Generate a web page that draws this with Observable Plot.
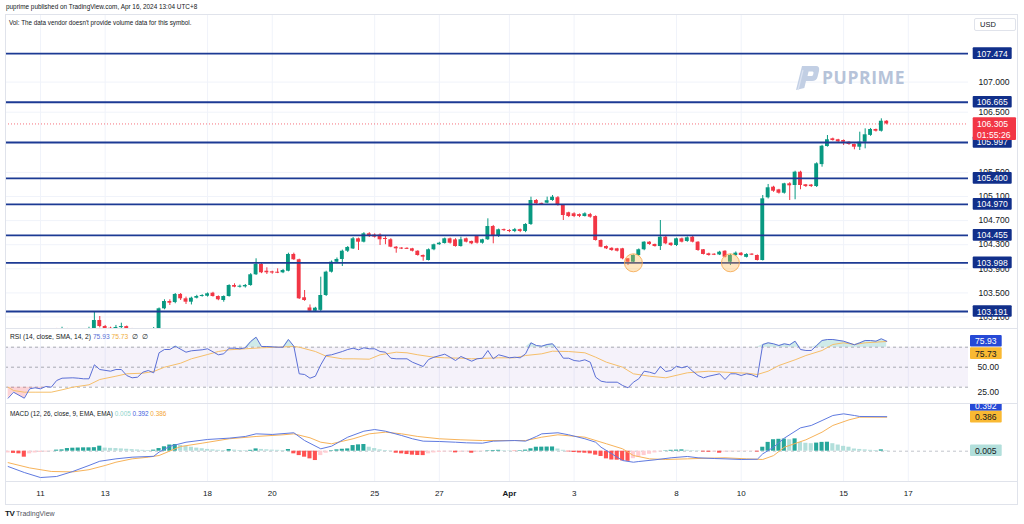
<!DOCTYPE html>
<html><head><meta charset="utf-8">
<script src="https://cdn.jsdelivr.net/npm/d3@7"></script>
<script src="https://cdn.jsdelivr.net/npm/@observablehq/plot@0.6"></script>
<style>
html,body{margin:0;padding:0;background:#fff;}
#chart{position:relative;width:1024px;height:524px;overflow:hidden;font-family:"Liberation Sans",Arial,sans-serif;color:#131722;}
#chart svg.pane{position:absolute;left:0;background:transparent;overflow:hidden;}
.txt{position:absolute;white-space:nowrap;line-height:1;}
.hline{position:absolute;left:5px;width:1013px;height:1px;background:#e0e3eb;}
</style></head><body>
<div id="chart"></div>
<script>
// ---------- DATA ----------
// 4-hour bars of the US Dollar Index; bar 0 = first bar of Mar 11
const firstBar = -7;
const open = [
102.900,102.860,102.800,102.820,102.760,102.800,102.840,102.830,102.860,102.850,
102.880,102.870,102.890,102.870,102.860,102.880,102.870,102.900,103.042,102.942,
102.909,102.900,102.925,102.940,102.890,102.860,102.840,102.870,102.860,102.880,
103.236,103.357,103.340,103.474,103.402,103.346,103.412,103.440,103.445,103.495,
103.440,103.374,103.440,103.623,103.595,103.600,103.623,103.801,103.972,103.860,
103.850,103.840,103.834,103.860,104.138,104.050,103.419,103.250,103.196,103.210,
103.457,103.844,104.010,104.055,104.192,104.230,104.398,104.342,104.481,104.460,
104.460,104.400,104.382,104.259,104.240,104.235,104.232,104.192,104.121,104.038,
104.216,104.299,104.320,104.398,104.380,104.270,104.398,104.354,104.436,104.325,
104.382,104.602,104.436,104.550,104.535,104.520,104.550,104.520,104.636,105.034,
104.985,104.990,105.034,105.080,104.951,104.830,104.813,104.800,104.768,104.800,
104.768,104.370,104.270,104.240,104.232,104.232,104.066,104.010,104.121,104.216,
104.342,104.304,104.270,104.425,104.325,104.287,104.398,104.354,104.425,104.342,
104.216,104.149,104.138,104.130,104.192,104.010,104.120,104.159,104.090,104.140,
104.121,104.038,105.079,105.255,105.210,105.155,105.311,105.283,105.504,105.295,
105.290,105.266,105.630,105.930,106.058,106.042,106.030,106.002,105.964,105.919,
106.002,106.115,106.213,106.184,106.350];
const high = [
102.920,102.880,102.840,102.830,102.820,102.860,102.870,102.880,102.890,102.900,
102.910,102.930,102.910,102.890,102.900,102.900,102.930,103.180,103.108,102.960,
102.930,102.960,102.997,102.950,102.910,102.880,102.890,102.900,102.926,103.250,
103.386,103.386,103.490,103.490,103.430,103.429,103.460,103.470,103.500,103.510,
103.450,103.450,103.635,103.651,103.630,103.640,103.820,104.066,103.990,103.917,
103.860,103.900,103.890,104.159,104.160,104.060,103.540,103.300,103.260,103.761,
103.860,104.030,104.080,104.210,104.270,104.420,104.410,104.500,104.500,104.480,
104.480,104.450,104.400,104.270,104.250,104.250,104.240,104.200,104.130,104.230,
104.310,104.340,104.410,104.410,104.400,104.425,104.410,104.360,104.450,104.390,
104.730,104.620,104.560,104.560,104.550,104.570,104.560,104.650,105.089,105.050,
104.990,105.090,105.117,105.100,104.960,104.840,104.830,104.810,104.830,104.820,
104.780,104.380,104.280,104.250,104.240,104.240,104.070,104.130,104.230,104.350,
104.350,104.310,104.702,104.440,104.330,104.410,104.410,104.430,104.440,104.350,
104.220,104.160,104.150,104.190,104.200,104.140,104.180,104.170,104.150,104.150,
104.130,105.117,105.300,105.270,105.220,105.320,105.330,105.520,105.520,105.300,
105.300,105.660,105.950,106.113,106.070,106.050,106.040,106.010,105.970,106.168,
106.224,106.230,106.220,106.390,106.360];
const low = [
102.840,102.780,102.760,102.720,102.740,102.780,102.800,102.810,102.830,102.830,
102.850,102.850,102.840,102.830,102.840,102.850,102.850,102.880,102.920,102.890,
102.880,102.880,102.900,102.870,102.830,102.800,102.820,102.840,102.840,102.860,
103.220,103.291,103.320,103.374,103.308,103.300,103.400,103.430,103.430,103.430,
103.370,103.346,103.430,103.585,103.580,103.580,103.610,103.790,103.820,103.806,
103.810,103.820,103.820,103.850,104.040,103.390,103.360,103.180,103.180,103.180,
103.440,103.830,103.990,103.938,104.170,104.220,104.204,104.330,104.420,104.410,
104.287,104.300,104.250,104.159,104.220,104.220,104.180,104.110,104.026,104.030,
104.200,104.290,104.310,104.310,104.260,104.260,104.330,104.300,104.310,104.310,
104.370,104.315,104.420,104.520,104.500,104.500,104.500,104.500,104.620,104.970,
104.960,104.980,105.020,104.940,104.702,104.750,104.750,104.750,104.760,104.740,
104.360,104.250,104.220,104.190,104.180,104.050,103.955,104.000,104.110,104.200,
104.290,104.260,104.204,104.300,104.270,104.270,104.330,104.340,104.330,104.190,
104.130,104.110,104.120,104.120,104.080,103.955,104.110,104.110,104.080,104.120,
104.030,104.030,105.060,105.170,105.140,105.140,105.034,105.046,105.212,105.250,
105.250,105.250,105.587,105.920,106.020,106.000,105.947,105.950,105.876,105.864,
105.892,106.100,106.170,106.170,106.290];
const close = [
102.860,102.800,102.820,102.760,102.800,102.840,102.830,102.860,102.850,102.880,
102.870,102.890,102.870,102.860,102.880,102.870,102.900,103.042,102.942,102.909,
102.900,102.925,102.940,102.890,102.860,102.840,102.870,102.860,102.880,103.236,
103.357,103.329,103.474,103.402,103.346,103.412,103.440,103.457,103.485,103.440,
103.386,103.440,103.623,103.595,103.610,103.623,103.801,103.972,103.834,103.834,
103.830,103.830,103.872,104.138,104.050,103.402,103.374,103.196,103.246,103.457,
103.844,104.010,104.055,104.192,104.254,104.398,104.342,104.481,104.436,104.425,
104.382,104.390,104.259,104.232,104.232,104.228,104.192,104.121,104.093,104.216,
104.299,104.325,104.398,104.325,104.270,104.382,104.342,104.315,104.325,104.382,
104.602,104.436,104.548,104.535,104.520,104.550,104.520,104.636,105.034,104.979,
104.970,105.030,105.089,104.951,104.785,104.768,104.768,104.770,104.813,104.757,
104.370,104.259,104.232,104.204,104.192,104.066,104.010,104.121,104.216,104.342,
104.304,104.270,104.425,104.315,104.287,104.398,104.342,104.415,104.342,104.204,
104.138,104.121,104.130,104.176,104.093,104.121,104.160,104.121,104.138,104.130,
104.038,105.062,105.245,105.188,105.155,105.311,105.278,105.504,105.283,105.266,
105.266,105.643,105.935,106.042,106.030,106.008,106.002,105.964,105.919,106.002,
106.125,106.213,106.184,106.350,106.305];

const levels = [107.474, 106.665, 105.997, 105.400, 104.970, 104.455, 103.998, 103.191];
const lastPrice = 106.305;
const countdown = "01:55:26";
const priceTicks = [107.0, 106.5, 105.5, 105.1, 104.7, 104.3, 103.9, 103.5, 103.1];
const dayTickBars = [0, 12, 31, 43, 62, 74, 87, 99, 118, 130, 149, 161];
const dayTickLabels = ["11", "13", "18", "20", "25", "27", "Apr", "3", "8", "10", "15", "17"];
const touchBars = [110, 128];
const touchPrice = 104.0;

// RSI (14) and its SMA (14): [bar, value]
const rsiLevels = [70, 50, 30];
const rsiTicks = [50, 25];
const rsiLine = [[-6,19.0],[-5,25.0],[-3,19.0],[-2,28.4],[-1,29.4],[0,28.4],[1,30.7],[2,30.0],[3,36.7],[4,39.0],[6,39.4],[7,39.0],[8,38.4],[9,38.4],[10,52.4],[11,47.7],[13,46.0],[14,47.7],[15,47.7],[16,41.7],[17,39.4],[18,40.0],[19,45.0],[20,46.7],[21,44.4],[22,64.4],[23,67.7],[24,67.7],[25,71.0],[27,65.0],[28,66.4],[30,67.4],[31,68.4],[33,62.4],[34,63.4],[35,69.0],[36,69.0],[37,68.4],[38,69.4],[39,75.7],[40,80.0],[41,70.7],[42,70.7],[44,70.0],[45,70.0],[46,77.7],[47,71.0],[48,43.4],[49,42.7],[50,39.0],[51,41.0],[52,52.4],[53,61.7],[54,62.4],[56,65.7],[57,67.7],[58,69.0],[59,67.4],[60,69.4],[61,68.4],[62,68.4],[63,65.7],[64,65.0],[65,59.0],[66,58.4],[68,58.4],[69,55.0],[71,50.7],[72,57.7],[73,60.0],[75,63.0],[76,60.0],[77,56.7],[78,60.7],[79,58.4],[80,56.0],[81,58.4],[82,59.0],[83,66.7],[84,58.4],[85,62.4],[86,61.0],[87,59.4],[88,60.0],[89,59.4],[90,63.4],[91,74.4],[92,71.7],[93,71.0],[94,72.7],[95,73.4],[96,66.7],[97,59.0],[98,59.0],[99,56.7],[100,56.0],[101,57.4],[102,55.0],[103,40.0],[104,36.0],[105,35.0],[107,35.0],[108,31.7],[109,29.4],[110,35.0],[111,38.4],[112,46.0],[113,45.0],[114,43.4],[115,50.7],[116,45.7],[117,46.7],[118,51.0],[119,49.4],[120,51.0],[121,46.0],[122,41.7],[123,39.4],[124,41.0],[126,43.4],[127,37.7],[128,43.4],[129,43.4],[130,41.7],[131,43.4],[132,42.4],[133,40.0],[134,72.7],[135,74.4],[136,73.4],[137,71.7],[138,73.4],[139,72.4],[140,76.0],[141,67.7],[142,66.7],[143,66.7],[144,71.7],[145,76.7],[146,77.7],[147,77.7],[149,76.0],[151,72.4],[152,74.4],[153,76.7],[154,76.7],[155,76.0],[156,78.4],[157,75.93]];
const rsiMa = [[-6,30.0],[-5,26.7],[-3,25.0],[-1,25.0],[2,25.0],[4,27.4],[6,30.0],[9,32.4],[11,37.7],[14,41.0],[16,43.4],[19,44.0],[21,45.7],[23,50.0],[26,54.0],[28,58.4],[31,62.7],[33,65.7],[35,67.4],[38,68.4],[41,69.4],[44,70.0],[47,70.7],[48,70.0],[51,65.7],[53,61.0],[56,58.4],[58,58.4],[61,58.0],[63,62.4],[66,65.0],[68,64.4],[70,62.4],[73,60.0],[75,59.4],[78,59.0],[80,58.4],[83,59.0],[85,59.4],[88,59.4],[90,61.7],[93,63.4],[95,66.0],[98,65.7],[101,64.4],[103,60.0],[105,55.0],[108,50.0],[110,43.4],[113,41.0],[116,39.4],[120,44.4],[124,46.0],[127,45.0],[131,44.0],[133,42.7],[135,46.0],[137,51.7],[140,57.4],[142,61.7],[145,66.7],[147,72.7],[149,74.4],[151,72.7],[153,74.4],[157,75.73]];
const rsiLast = 75.93, rsiMaLast = 75.73;

// MACD (12, 26, 9): [bar, value]
const macdLine = [[-6,-0.174],[-3,-0.242],[0,-0.299],[3,-0.287],[6,-0.230],[9,-0.162],[11,-0.114],[14,-0.087],[17,-0.068],[21,-0.058],[22,-0.010],[24,0.055],[27,0.102],[31,0.133],[35,0.148],[38,0.167],[40,0.197],[43,0.190],[47,0.209],[49,0.121],[52,0.027],[54,0.057],[57,0.159],[60,0.227],[62,0.246],[64,0.227],[67,0.178],[69,0.141],[71,0.114],[74,0.110],[77,0.102],[79,0.095],[82,0.091],[84,0.114],[88,0.121],[90,0.114],[92,0.167],[93,0.197],[96,0.209],[98,0.186],[101,0.141],[103,0.102],[104,0.045],[106,-0.030],[108,-0.106],[110,-0.125],[111,-0.117],[114,-0.098],[117,-0.075],[120,-0.060],[122,-0.075],[125,-0.083],[127,-0.087],[130,-0.094],[133,-0.091],[134,-0.030],[136,0.045],[138,0.148],[141,0.265],[143,0.292],[145,0.348],[147,0.405],[149,0.424],[151,0.405],[152,0.394],[157,0.392]];
const signalLine = [[-6,-0.130],[-2,-0.190],[2,-0.230],[6,-0.235],[9,-0.210],[12,-0.162],[14,-0.125],[17,-0.087],[20,-0.068],[22,-0.049],[26,0.053],[30,0.091],[35,0.141],[40,0.167],[45,0.186],[47,0.197],[50,0.152],[52,0.102],[54,0.084],[58,0.141],[61,0.197],[64,0.216],[67,0.197],[70,0.167],[74,0.141],[78,0.129],[82,0.121],[88,0.121],[90,0.121],[93,0.159],[96,0.186],[101,0.159],[105,0.084],[108,0.027],[110,-0.049],[113,-0.087],[116,-0.094],[120,-0.087],[124,-0.079],[127,-0.075],[131,-0.087],[134,-0.094],[136,-0.050],[138,0.045],[142,0.129],[145,0.216],[147,0.292],[150,0.356],[152,0.386],[157,0.386]];
const histFirstBar = -6;
const histValues = [
-0.020,-0.025,-0.030,-0.068,-0.030,-0.020,-0.015,-0.010,-0.005,0.012,
0.015,0.030,0.034,0.036,0.038,0.038,0.040,0.057,0.035,0.032,
0.030,0.026,0.022,0.018,0.014,0.010,0.008,0.012,0.030,0.050,
0.070,0.076,0.065,0.055,0.045,0.035,0.028,0.020,0.015,0.010,
0.008,0.019,0.012,0.008,0.006,0.010,0.026,0.020,0.016,0.012,
0.010,0.008,0.019,-0.030,-0.050,-0.068,-0.087,-0.106,-0.050,-0.023,
0.006,0.015,0.022,0.026,0.064,0.072,0.076,0.045,0.030,0.015,
0.008,0.004,-0.023,-0.030,-0.038,-0.045,-0.049,-0.050,-0.030,-0.020,
-0.015,-0.010,-0.008,-0.019,-0.012,-0.008,-0.023,-0.010,-0.005,0.005,
0.008,0.010,0.006,0.004,-0.004,0.006,0.012,0.027,0.045,0.046,
0.047,0.048,0.025,0.010,-0.008,-0.015,-0.020,-0.023,-0.030,-0.045,
-0.060,-0.087,-0.100,-0.102,-0.110,-0.115,-0.085,-0.070,-0.050,-0.035,
-0.020,-0.008,0.004,0.010,0.012,0.015,0.010,0.006,0.004,-0.010,
-0.012,-0.010,-0.023,-0.010,-0.008,-0.006,-0.005,-0.004,-0.003,-0.010,
0.045,0.100,0.130,0.135,0.138,0.130,0.140,0.100,0.090,0.085,
0.092,0.100,0.102,0.085,0.070,0.055,0.045,0.025,0.020,0.015,
0.010,0.008,0.015,0.005];
const macdLast = 0.392, signalLast = 0.386, histLast = 0.005;

// ---------- DRAWING ----------
const FONT = '"Liberation Sans", Arial, sans-serif';
const UP = "#089981", DOWN = "#f23645";
const LEVEL = "#1c3a94", LEVEL_TAG = "#112f8a";
const xDomain = [-6.49, 172.17];
const root = document.getElementById("chart");

const candles = open.map((o, i) => ({bar: i + firstBar, o, h: high[i], l: low[i], c: close[i]}));
const minBody = 0.017;
const bodyLo = d => { const lo = Math.min(d.o, d.c), hi = Math.max(d.o, d.c); return hi - lo < minBody ? (lo + hi) / 2 - minBody / 2 : lo; };
const bodyHi = d => { const lo = Math.min(d.o, d.c), hi = Math.max(d.o, d.c); return hi - lo < minBody ? (lo + hi) / 2 + minBody / 2 : hi; };
const candleColor = d => d.c >= d.o ? UP : DOWN;

function place(svg, top) {
  svg.classList.add("pane");
  svg.style.top = top + "px";
  svg.style.maxWidth = "none";
  svg.style.overflow = "hidden";
  root.appendChild(svg);
  return svg;
}
function tag(svg, y, text, fill, color, opts = {}) {
  const x = opts.x ?? 972.7, w = opts.w ?? 39, h = opts.h ?? 11.7, fs = opts.fs ?? 8.6;
  const g = d3.select(svg).append("g");
  g.append("rect").attr("x", x).attr("y", y - h / 2).attr("width", w).attr("height", h).attr("fill", fill).attr("rx", 1);
  g.append("text").attr("x", x + w / 2).attr("y", y + 0.5).attr("text-anchor", "middle").attr("dominant-baseline", "central")
    .attr("fill", color).attr("font-size", fs).attr("font-family", FONT).text(text);
  return g;
}

// main price pane (y 14 .. 328)
const main = Plot.plot({
  width: 1024, height: 314, marginTop: 0, marginBottom: 0, marginLeft: 5, marginRight: 56,
  style: {fontFamily: FONT, fontSize: "8.6px", color: "#131722", background: "transparent"},
  x: {domain: xDomain, axis: null},
  y: {domain: [102.909, 108.122], axis: "right", ticks: priceTicks, tickFormat: d3.format(".3f"), tickSize: 0, tickPadding: 10, label: null},
  marks: [
    Plot.ruleX(dayTickBars, {stroke: "#f0f3fa"}),
    Plot.ruleY(priceTicks, {stroke: "#f0f3fa"}),
    Plot.ruleY([lastPrice], {stroke: DOWN, strokeWidth: 1, strokeDasharray: "1,2", strokeOpacity: 0.7}),
    Plot.ruleX(candles, {x: "bar", y1: "l", y2: "h", stroke: candleColor, strokeWidth: 1, clip: true}),
    Plot.rect(candles, {x1: d => d.bar - 0.36, x2: d => d.bar + 0.36, y1: bodyLo, y2: bodyHi, fill: candleColor, clip: true}),
    Plot.ruleY(levels, {stroke: LEVEL, strokeWidth: 1.8}),
    Plot.dot(touchBars, {x: d => d, y: () => touchPrice, r: 9, fill: "#ffb74d", fillOpacity: 0.35, stroke: "#f5a54a", strokeOpacity: 0.8, strokeWidth: 1})
  ]
});
place(main, 14);
const ys = main.scale("y");
levels.forEach(v => tag(main, ys.apply(v), v.toFixed(3), LEVEL_TAG, "#ffffff"));
{
  const y = ys.apply(lastPrice);
  const g = d3.select(main).append("g").attr("text-anchor", "start");
  g.append("rect").attr("x", 972.7).attr("y", y - 6.1).attr("width", 43.3).attr("height", 22.7).attr("fill", DOWN).attr("rx", 1);
  g.append("text").attr("x", 977).attr("y", y + 0.5).attr("text-anchor", "start").attr("dominant-baseline", "central").attr("fill", "#fff").attr("font-size", 8.6).attr("font-family", FONT).text(lastPrice.toFixed(3));
  g.append("text").attr("x", 977).attr("y", y + 11.3).attr("text-anchor", "start").attr("dominant-baseline", "central").attr("fill", "#fff").attr("font-size", 8.6).attr("font-family", FONT).text(countdown);
}

// RSI pane (y 329 .. 403)
const rsi = Plot.plot({
  width: 1024, height: 74, marginTop: 0, marginBottom: 0, marginLeft: 5, marginRight: 56,
  style: {fontFamily: FONT, fontSize: "8.6px", color: "#131722", background: "transparent"},
  x: {domain: xDomain, axis: null},
  y: {domain: [13.7, 87.7], axis: "right", ticks: rsiTicks, tickFormat: d3.format(".2f"), tickSize: 0, tickPadding: 9, label: null},
  marks: [
    Plot.ruleX(dayTickBars, {stroke: "#f0f3fa"}),
    Plot.rect([0], {x1: xDomain[0], x2: xDomain[1], y1: rsiLevels[2], y2: rsiLevels[0], fill: "#7e57c2", fillOpacity: 0.08}),
    Plot.ruleY(rsiLevels, {stroke: "#9598a1", strokeDasharray: "3,3", strokeOpacity: 0.8}),
    Plot.areaY(rsiLine, {x: d => d[0], y1: rsiLevels[0], y2: d => Math.max(rsiLevels[0], d[1]), fill: "#26a69a", fillOpacity: 0.22, clip: true}),
    Plot.areaY(rsiLine, {x: d => d[0], y1: rsiLevels[2], y2: d => Math.min(rsiLevels[2], d[1]), fill: "#f23645", fillOpacity: 0.22, clip: true}),
    Plot.line(rsiMa, {x: d => d[0], y: d => d[1], stroke: "#f5bf6a", strokeWidth: 1, clip: true}),
    Plot.line(rsiLine, {x: d => d[0], y: d => d[1], stroke: "#5b6fd6", strokeWidth: 1, clip: true})
  ]
});
place(rsi, 329);
const rs = rsi.scale("y");
tag(rsi, rs.apply(rsiLast), rsiLast.toFixed(2), "#2649d6", "#ffffff", {x: 970, w: 31.7});
tag(rsi, rs.apply(rsiMaLast) + 12.2, rsiMaLast.toFixed(2), "#f9b933", "#131722", {x: 970, w: 31.7});

// MACD pane (y 404 .. 481) + time axis
const hist = histValues.map((v, i) => ({bar: i + histFirstBar, v, prev: i ? histValues[i - 1] : v}));
const histColor = d => d.v >= 0 ? (d.v >= d.prev ? "#26a69a" : "#b2dfdb") : (d.v < d.prev ? "#ff5252" : "#ffcdd2");
const macd = Plot.plot({
  width: 1024, height: 101, marginTop: 0, marginBottom: 24, marginLeft: 5, marginRight: 56,
  style: {fontFamily: FONT, fontSize: "8px", color: "#131722", background: "transparent"},
  x: {domain: xDomain, axis: "bottom", ticks: dayTickBars, tickFormat: d => dayTickLabels[dayTickBars.indexOf(d)], tickSize: 0, tickPadding: 9, label: null},
  y: {domain: [-0.344, 0.530], axis: null},
  marks: [
    Plot.ruleX(dayTickBars, {stroke: "#f0f3fa"}),
    Plot.ruleY([0], {stroke: "#b2b5be", strokeDasharray: "3,3", strokeOpacity: 0.8}),
    Plot.rect(hist, {x1: d => d.bar - 0.38, x2: d => d.bar + 0.38, y1: 0, y2: "v", fill: histColor, clip: true}),
    Plot.line(signalLine, {x: d => d[0], y: d => d[1], stroke: "#f7b35a", strokeWidth: 1, clip: true}),
    Plot.line(macdLine, {x: d => d[0], y: d => d[1], stroke: "#5f7ae0", strokeWidth: 1, clip: true})
  ]
});
place(macd, 404);
d3.select(macd).selectAll("text").filter(function () { return this.textContent === "Apr"; }).attr("font-weight", "bold");
const ms = macd.scale("y");
tag(macd, ms.apply(signalLast) - 11.7, macdLast.toFixed(3), "#2649d6", "#ffffff", {x: 970, w: 31.7});
tag(macd, ms.apply(signalLast), signalLast.toFixed(3), "#f9b933", "#131722", {x: 970, w: 31.7});
tag(macd, ms.apply(histLast), histLast.toFixed(3), "#b2dfdb", "#131722", {x: 970, w: 31.7});

// ---------- TEXT / FRAME OVERLAYS ----------
function addText(html, left, top, size, color, extra = "") {
  const d = document.createElement("div");
  d.className = "txt";
  d.style.cssText += `left:${left}px;top:${top}px;font-size:${size}px;color:${color};${extra}`;
  d.innerHTML = html;
  root.appendChild(d);
  return d;
}
addText("puprime published on TradingView.com, Apr 16, 2024 13:04 UTC+8", 6, 4, 6.4, "#131722");
addText("Vol: The data vendor doesn't provide volume data for this symbol.", 9, 20, 6.3, "#131722");
addText(`RSI (14, close, SMA, 14, 2) <span style="color:#5b6fd6">${rsiLast.toFixed(2)}</span> <span style="color:#f0ad3c">${rsiMaLast.toFixed(2)}</span> <span style="color:#131722">&nbsp;∅&nbsp;&nbsp;∅</span>`, 10, 334.3, 6.7, "#131722");
addText(`MACD (12, 26, close, 9, EMA, EMA) <span style="color:#8fd3cb">${histLast.toFixed(3)}</span> <span style="color:#3f63de">${macdLast.toFixed(3)}</span> <span style="color:#f3a533">${signalLast.toFixed(3)}</span>`, 10, 410.8, 6.4, "#131722");
addText('<b style="font-size:8px;color:#131722;letter-spacing:-0.5px">TV</b> TradingView', 5, 509.5, 7, "#50535e");

// USD box
addText("USD", 980, 21, 7.5, "#131722");
{
  const b = document.createElement("div");
  b.style.cssText = "position:absolute;left:974px;top:18px;width:42px;height:13px;border:1px solid #e0e3eb;border-radius:2px;box-sizing:border-box;";
  root.appendChild(b);
}

// watermark
{
  const ns = "http://www.w3.org/2000/svg";
  const s = document.createElementNS(ns, "svg");
  s.setAttribute("width", 120); s.setAttribute("height", 34);
  s.style.cssText = "position:absolute;left:792px;top:60px;";
  s.innerHTML = `
    <path d="M4 30 L10 6 L24 6 Q28 6 27 11 L25.5 17 Q24.5 21 20 21 L14 21 L12.3 28 Z M15.5 16 L19.5 16 Q20.8 16 21.1 14.8 L21.5 13 Q21.8 11.5 20.5 11.5 L16.6 11.5 Z" fill="#c2cfe4"/>
    <path d="M6 30 L11 10" stroke="#dbe3f1" stroke-width="1.2"/>
    <text x="30" y="24" font-family="'Open Sans', 'Liberation Sans', sans-serif" font-weight="700" font-size="17.5" fill="#b6c3d9" letter-spacing="0.6">PUPRIME</text>`;
  root.appendChild(s);
}

// frame and pane separators
[328, 403, 481].forEach(y => { const l = document.createElement("div"); l.className = "hline"; l.style.top = y + "px"; root.appendChild(l); });
{
  const b = document.createElement("div");
  b.style.cssText = "position:absolute;left:5px;top:14px;width:1013px;height:491px;border:1px solid #e0e3eb;box-sizing:border-box;pointer-events:none;";
  root.appendChild(b);
}
</script></body></html>
